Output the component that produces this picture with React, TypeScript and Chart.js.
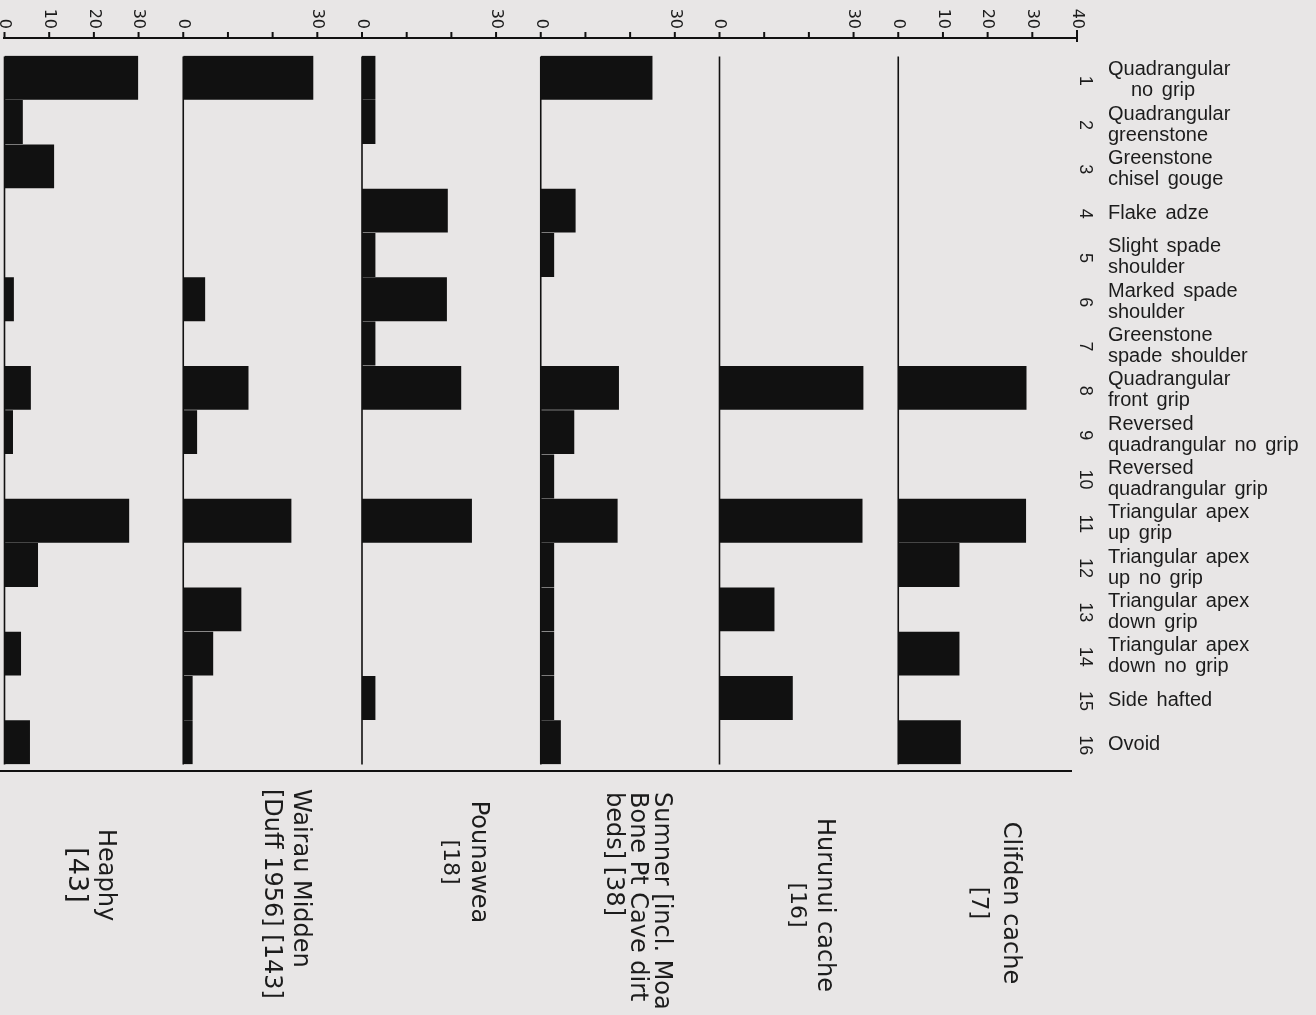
import React, { useEffect, useRef } from "react";
import { Chart, registerables } from "chart.js";

Chart.register(...registerables);

// ---- data -------------------------------------------------------------
const categories = ["1", "2", "3", "4", "5", "6", "7", "8", "9", "10", "11", "12", "13", "14", "15", "16"];

const categoryNames: string[][] = [
  ["Quadrangular", "no grip"],
  ["Quadrangular", "greenstone"],
  ["Greenstone", "chisel gouge"],
  ["Flake adze"],
  ["Slight spade", "shoulder"],
  ["Marked spade", "shoulder"],
  ["Greenstone", "spade shoulder"],
  ["Quadrangular", "front grip"],
  ["Reversed", "quadrangular no grip"],
  ["Reversed", "quadrangular grip"],
  ["Triangular apex", "up grip"],
  ["Triangular apex", "up no grip"],
  ["Triangular apex", "down grip"],
  ["Triangular apex", "down no grip"],
  ["Side hafted"],
  ["Ovoid"],
];

// panels, left to right
const panelIds = ["xHeaphy", "xWairau", "xPounawea", "xSumner", "xHurunui", "xClifden"];
const panelNames: string[][] = [
  ["Heaphy", "[43]"],
  ["Wairau Midden", "[Duff 1956] [143]"],
  ["Pounawea", "[18]"],
  ["Sumner [incl. Moa", "Bone Pt Cave dirt", "beds] [38]"],
  ["Hurunui cache", "[16]"],
  ["Clifden cache", "[7]"],
];

const heaphy = [29.9, 4.1, 11.1, 0, 0, 2.1, 0, 5.9, 1.9, 0, 27.9, 7.5, 0, 3.7, 0, 5.7];
const wairau = [29.1, 0, 0, 0, 0, 4.9, 0, 14.6, 3.1, 0, 24.2, 0, 13, 6.7, 2.1, 2.1];
const pounawea = [3, 3, 0, 19.2, 3, 19, 3, 22.2, 0, 0, 24.6, 0, 0, 0, 3, 0];
const sumner = [25, 0, 0, 7.8, 3, 0, 0, 17.5, 7.5, 3, 17.2, 3, 3, 3, 3, 4.5];
const hurunui = [0, 0, 0, 0, 0, 0, 0, 32.2, 0, 0, 32, 0, 12.3, 0, 16.4, 0];
const clifden = [0, 0, 0, 0, 0, 0, 0, 28.7, 0, 0, 28.6, 13.7, 0, 13.7, 0, 14];
const panelValues = [heaphy, wairau, pounawea, sumner, hurunui, clifden];

const tickValues = [0, 10, 20, 30];
const heaphyTicks = ["0", "10", "20", "30"];
const plainTicks = ["0", "", "", "30"];
const clifdenTicks = ["0", "10", "20", "30", "40"];
const panelTicks = [heaphyTicks, plainTicks, plainTicks, plainTicks, plainTicks, clifdenTicks];

// ---- layout / style (not data) ---------------------------------------
const BG = "#e8e6e6";
const INK = "#111111";
const TEXT = "#1c1c1c";
const PANEL_FONT = '"DejaVu Sans"';
const LABEL_FONT = '"Liberation Sans"';

const panelLabelLayout = [
  { dx: 11, y: 875, align: "center", gap: 29, sizes: [24, 27] },
  { dx: 27.5, y: 789, align: "left", gap: 29, sizes: [24, 24] },
  { dx: 27, y: 862, align: "center", gap: 29, sizes: [24, 22] },
  { dx: 31, y: 792, align: "left", gap: 24, sizes: [24, 24, 24] },
  { dx: 15, y: 905, align: "center", gap: 27, sizes: [24, 22] },
  { dx: 22.5, y: 903, align: "center", gap: 32, sizes: [24, 23] },
];

const decorPlugin = {
  id: "decor",
  beforeDraw(chart: any) {
    const ctx = chart.ctx;
    ctx.save();
    ctx.fillStyle = BG;
    ctx.fillRect(0, 0, chart.width, chart.height);
    ctx.restore();
  },
  beforeDatasetsDraw(chart: any) {
    const ctx = chart.ctx;
    const area = chart.chartArea;
    ctx.save();
    ctx.strokeStyle = INK;
    ctx.lineWidth = 1.6;
    panelIds.forEach((id) => {
      const s = chart.scales[id];
      const x = s.getPixelForValue(0);
      ctx.beginPath();
      ctx.moveTo(x, area.top + 1);
      ctx.lineTo(x, area.bottom);
      ctx.stroke();
    });
    ctx.restore();
  },
  afterDraw(chart: any) {
    const ctx = chart.ctx;
    const first = chart.scales[panelIds[0]];
    const last = chart.scales[panelIds[panelIds.length - 1]];
    const axisY = 38;
    ctx.save();
    ctx.strokeStyle = INK;
    ctx.fillStyle = TEXT;

    // top axis line
    ctx.lineWidth = 2;
    ctx.beginPath();
    ctx.moveTo(first.getPixelForValue(0) - 1.5, axisY);
    ctx.lineTo(last.getPixelForValue(40) + 1, axisY);
    ctx.stroke();

    // ticks + rotated tick labels
    ctx.font = `16px ${PANEL_FONT}`;
    panelIds.forEach((id, p) => {
      const s = chart.scales[id];
      const labels = panelTicks[p];
      labels.forEach((lab, k) => {
        const v = k < tickValues.length ? tickValues[k] : 40;
        const x = s.getPixelForValue(v);
        ctx.beginPath();
        if (v === 40) {
          ctx.moveTo(x, 30);
          ctx.lineTo(x, 42);
        } else {
          ctx.moveTo(x, 32);
          ctx.lineTo(x, axisY);
        }
        ctx.stroke();
        if (lab) {
          ctx.save();
          ctx.translate(x, 29);
          ctx.rotate(Math.PI / 2);
          ctx.textAlign = "right";
          ctx.textBaseline = "middle";
          ctx.fillText(lab, 0, 0);
          ctx.restore();
        }
      });
    });

    // bottom line
    ctx.lineWidth = 2;
    ctx.beginPath();
    ctx.moveTo(0, 771);
    ctx.lineTo(1072, 771);
    ctx.stroke();

    // category numbers and names
    const yScale = chart.scales.y;
    categories.forEach((c, i) => {
      const cy = yScale.getPixelForValue(i);
      ctx.save();
      ctx.font = `18px ${LABEL_FONT}`;
      ctx.translate(1085, cy + 3);
      ctx.rotate(Math.PI / 2);
      ctx.textAlign = "center";
      ctx.textBaseline = "middle";
      ctx.fillText(c, 0, 0);
      ctx.restore();

      const lines = categoryNames[i];
      ctx.save();
      ctx.font = `20px ${LABEL_FONT}`;
      (ctx as any).wordSpacing = "3px";
      ctx.textAlign = "left";
      ctx.textBaseline = "middle";
      lines.forEach((ln, j) => {
        const ly = cy + 2.5 + (j - (lines.length - 1) / 2) * 21;
        const indent = i === 0 && j === 1 ? 23 : 0;
        ctx.fillText(ln, 1108 + indent, ly);
      });
      (ctx as any).wordSpacing = "0px";
      ctx.restore();
    });

    // panel labels (rotated)
    panelIds.forEach((id, p) => {
      const s = chart.scales[id];
      const cx = (s.getPixelForValue(0) + s.getPixelForValue(40)) / 2;
      const lay = panelLabelLayout[p];
      panelNames[p].forEach((ln, j) => {
        ctx.save();
        ctx.font = `${lay.sizes[j]}px ${PANEL_FONT}`;
        ctx.translate(cx + lay.dx - j * lay.gap, lay.y);
        ctx.rotate(Math.PI / 2);
        ctx.textAlign = lay.align as CanvasTextAlign;
        ctx.textBaseline = "middle";
        ctx.fillText(ln, 0, 0);
        ctx.restore();
      });
    });

    ctx.restore();
  },
};

export default function App() {
  const canvasRef = useRef<HTMLCanvasElement | null>(null);

  useEffect(() => {
    const canvas = canvasRef.current;
    if (!canvas) return;

    const scales: any = {
      y: {
        type: "category",
        position: "right",
        display: false,
        offset: true,
        grid: { display: false },
      },
    };
    panelIds.forEach((id, p) => {
      scales[id] = {
        type: "linear",
        axis: "x",
        position: "top",
        stack: "panels",
        stackWeight: 1,
        weight: panelIds.length - p,
        min: 0,
        max: 40,
        display: true,
        grid: { display: false },
        border: { display: false },
        ticks: { display: false },
      };
    });

    const chart = new Chart(canvas, {
      type: "bar",
      data: {
        labels: categories,
        datasets: panelIds.map((id, p) => ({
          label: panelNames[p].join(" "),
          data: panelValues[p],
          xAxisID: id,
          yAxisID: "y",
          backgroundColor: INK,
          borderWidth: 0,
          grouped: false,
          barPercentage: 0.99,
          categoryPercentage: 1,
        })),
      },
      options: {
        indexAxis: "y",
        animation: false,
        responsive: false,
        devicePixelRatio: 1,
        layout: { padding: { left: 4.5, right: 239, top: 47.6, bottom: 250.6 } },
        plugins: {
          legend: { display: false },
          tooltip: { enabled: false },
        },
        scales,
      } as any,
      plugins: [decorPlugin],
    });

    return () => chart.destroy();
  }, []);

  return (
    <div style={{ position: "fixed", left: 0, top: 0, width: 1316, height: 1015, background: BG }}>
      <canvas ref={canvasRef} width={1316} height={1015} style={{ display: "block" }} />
    </div>
  );
}
